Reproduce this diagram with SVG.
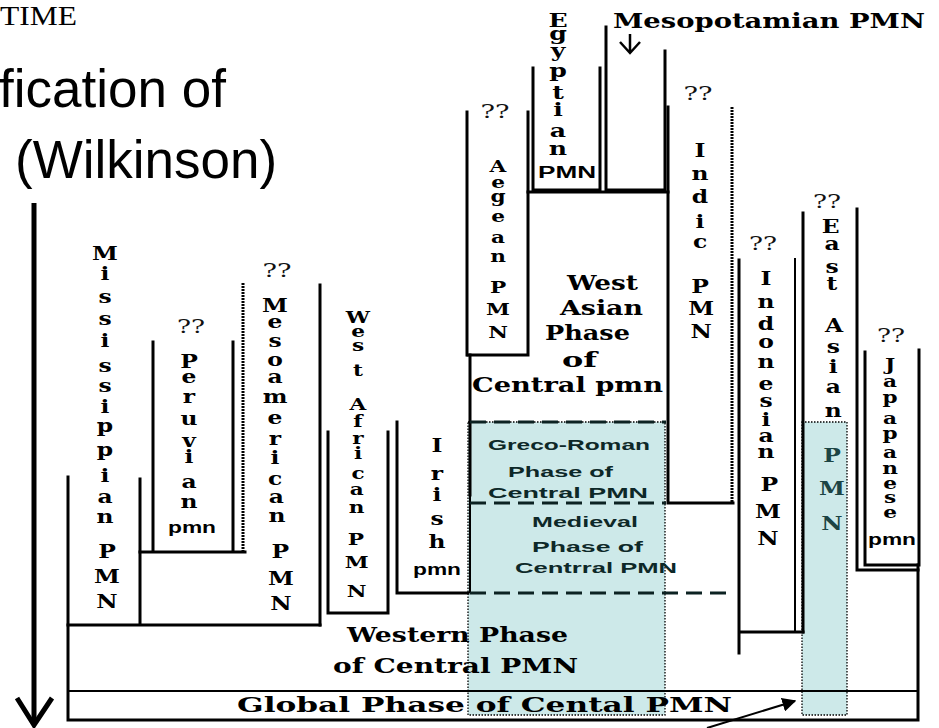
<svg xmlns="http://www.w3.org/2000/svg" width="939" height="728" viewBox="0 0 939 728">
  <style>
    .wall { stroke:#000; stroke-width:3; fill:none; stroke-linecap:square; }
    .wall2 { stroke:#000; stroke-width:2; fill:none; }
    .ticked { stroke:#000; stroke-width:3; fill:none; stroke-dasharray:2 1; }
    .dotted { stroke:#000; stroke-width:1.3; fill:none; stroke-dasharray:1.5 1.5; }
    .dash { stroke:#0c2222; stroke-width:3; fill:none; stroke-dasharray:16 8; }
    .teal { fill:#cde9e9; }
    .v { font-family:"DejaVu Serif", serif; font-weight:bold; font-size:18px; text-anchor:middle; fill:#000; }
    .vs { font-size:16px; }
    .vt { font-size:16px; }
    .q { font-family:"DejaVu Serif", serif; font-size:19px; text-anchor:middle; fill:#111; }
    .h { font-family:"DejaVu Serif", serif; font-weight:bold; font-size:20px; fill:#000; }
    .s { font-family:"Liberation Sans", Arial, sans-serif; font-weight:bold; font-size:14px; fill:#0d2828; }
    .pmn { font-family:"Liberation Sans", Arial, sans-serif; font-weight:bold; font-size:16px; fill:#000; text-anchor:middle; }
    .tealtext { fill:#1c4444; }
    .arrow { stroke:#000; fill:none; }
  </style>
  <defs>
    <marker id="head" viewBox="0 0 10 10" refX="9" refY="5" markerWidth="7" markerHeight="7" orient="auto">
      <path d="M0,0 L10,5 L0,10 z" fill="#000"/>
    </marker>
  </defs>

  <rect width="939" height="728" fill="#fff"/>

  <!-- shaded bands of the central and east asian traditions -->
  <g id="shading">
    <rect class="teal" x="468" y="422" width="197" height="293"/>
    <rect class="dotted" x="468" y="422" width="197" height="293"/>
    <rect class="teal" x="802" y="422" width="45" height="293"/>
    <rect class="dotted" x="802" y="422" width="45" height="293"/>
  </g>

  <!-- headings -->
  <g id="title">
    <text x="0" y="25" font-family="Liberation Serif, serif" font-size="27" textLength="77" lengthAdjust="spacingAndGlyphs">TIME</text>
    <text x="-1" y="107" font-family="Liberation Sans, Arial, sans-serif" font-size="53">fication of</text>
    <text x="15" y="178" font-family="Liberation Sans, Arial, sans-serif" font-size="53">(Wilkinson)</text>
  </g>

  <!-- global phase frame -->
  <g id="global-phase">
    <path class="wall" d="M68,477 V720 H918 V565"/>
    <path class="wall2" d="M68,691 H918"/>
    <text class="h" x="237" y="712" font-size="23" textLength="495" lengthAdjust="spacingAndGlyphs">Global Phase of Cental PMN</text>
  </g>

  <g id="western-phase">
    <text class="h" x="347" y="642" textLength="221" lengthAdjust="spacingAndGlyphs">Western Phase</text>
    <text class="h" x="333" y="673" textLength="245" lengthAdjust="spacingAndGlyphs">of Central PMN</text>
  </g>

  <g id="mississippian">
    <path class="wall" d="M140,479 V625 M68,625 H320"/>
    <g transform="translate(105,0) scale(1.3,1)">
      <text class="v"><tspan x="0" y="260">M</tspan><tspan x="0" y="280">i</tspan><tspan x="0" y="303">s</tspan><tspan x="0" y="325">s</tspan><tspan x="0" y="347">i</tspan><tspan x="0" y="372">s</tspan><tspan x="0" y="392">s</tspan><tspan x="0" y="413">i</tspan><tspan x="0" y="432">p</tspan><tspan x="0" y="456">p</tspan><tspan x="0" y="482">i</tspan><tspan x="0" y="503">a</tspan><tspan x="0" y="523">n</tspan><tspan x="1.5" y="558">P</tspan><tspan x="1.5" y="583">M</tspan><tspan x="1.5" y="608">N</tspan></text>
    </g>
  </g>

  <g id="peruvian">
    <path class="wall" d="M153,342 V552 M233,342 V552 M140,552 H245"/>
    <text class="q" x="191" y="333" textLength="28" lengthAdjust="spacingAndGlyphs">??</text>
    <g transform="translate(189,0) scale(1.3,1)">
      <text class="v"><tspan x="0" y="368">P</tspan><tspan x="0" y="383">e</tspan><tspan x="0" y="403">r</tspan><tspan x="0" y="425">u</tspan><tspan x="0" y="447">v</tspan><tspan x="0" y="463">i</tspan><tspan x="0" y="488">a</tspan><tspan x="0" y="508">n</tspan></text>
    </g>
    <text class="pmn" x="192" y="533" textLength="48" lengthAdjust="spacingAndGlyphs">pmn</text>
  </g>

  <g id="mesoamerican">
    <path class="ticked" d="M243,283 V552"/>
    <path class="wall" d="M320,285 V625"/>
    <text class="q" x="277" y="277" textLength="29" lengthAdjust="spacingAndGlyphs">??</text>
    <g transform="translate(275,0) scale(1.3,1)">
      <text class="v"><tspan x="0" y="312">M</tspan><tspan x="0" y="328">e</tspan><tspan x="0" y="347">s</tspan><tspan x="0" y="366">o</tspan><tspan x="0" y="383">a</tspan><tspan x="0" y="403">m</tspan><tspan x="0" y="424">e</tspan><tspan x="0" y="445">r</tspan><tspan x="0" y="464">i</tspan><tspan x="0" y="485">c</tspan><tspan x="1" y="503">a</tspan><tspan x="1.5" y="522">n</tspan><tspan x="4" y="558">P</tspan><tspan x="4.5" y="585">M</tspan><tspan x="4.5" y="610">N</tspan></text>
    </g>
  </g>

  <g id="west-african">
    <path class="wall" d="M328,432 V613 H388 V432"/>
    <g transform="translate(358,0) scale(1.35,1)">
      <text class="v vt"><tspan x="0" y="323">W</tspan><tspan x="0" y="337">e</tspan><tspan x="0" y="351">s</tspan><tspan x="0" y="376">t</tspan><tspan x="0" y="410">A</tspan><tspan x="0" y="427">f</tspan><tspan x="0" y="444">r</tspan><tspan x="0" y="459">i</tspan><tspan x="0" y="479">c</tspan><tspan x="-1" y="495">a</tspan><tspan x="-1" y="513">n</tspan><tspan x="-1.5" y="545">P</tspan><tspan x="-1" y="568">M</tspan><tspan x="-1" y="597">N</tspan></text>
    </g>
  </g>

  <g id="irish">
    <path class="wall" d="M397,422 V593 H468"/>
    <g transform="translate(437,0) scale(1.3,1)">
      <text class="v"><tspan x="0" y="452">I</tspan><tspan x="0" y="480">r</tspan><tspan x="0" y="501">i</tspan><tspan x="0" y="525">s</tspan><tspan x="0" y="548">h</tspan></text>
    </g>
    <text class="pmn" x="437" y="575" textLength="48" lengthAdjust="spacingAndGlyphs">pmn</text>
  </g>

  <!-- central tradition: outer walls -->
  <g id="central">
    <path class="wall" d="M467,112 V355"/>
    <path class="wall" stroke-width="4" d="M470,355 V495"/>
    <path class="wall2" d="M470,495 V593"/>
    <path class="wall" d="M668,107 V503 H733"/>
    <path class="wall" d="M528,192 H668"/>
  </g>

  <g id="aegean">
    <path class="wall" d="M528,112 V355 H468"/>
    <text class="q" x="495" y="118" textLength="29" lengthAdjust="spacingAndGlyphs">??</text>
    <g transform="translate(498,0) scale(1.35,1)">
      <text class="v vt"><tspan x="0" y="172">A</tspan><tspan x="0" y="188">e</tspan><tspan x="0" y="202">g</tspan><tspan x="0" y="222">e</tspan><tspan x="0" y="243">a</tspan><tspan x="0" y="262">n</tspan><tspan x="0" y="293">P</tspan><tspan x="0" y="315">M</tspan><tspan x="0" y="338">N</tspan></text>
    </g>
  </g>

  <g id="egyptian">
    <path class="wall" d="M533,68 V190 H600 V68"/>
    <g transform="translate(558,0) scale(1.4,1)">
      <text class="v" font-size="15"><tspan x="0" y="27">E</tspan><tspan x="0" y="40">g</tspan><tspan x="0" y="57">y</tspan><tspan x="0" y="77">p</tspan><tspan x="0" y="99">t</tspan><tspan x="0" y="116">i</tspan><tspan x="0" y="137">a</tspan><tspan x="0" y="155">n</tspan></text>
    </g>
    <text class="pmn" x="567" y="178" font-size="17" textLength="58" lengthAdjust="spacingAndGlyphs">PMN</text>
  </g>

  <g id="mesopotamian">
    <path class="wall" d="M606,27 V190 H665 V51"/>
    <text class="h" x="613" y="28" textLength="312" lengthAdjust="spacingAndGlyphs">Mesopotamian PMN</text>
  </g>

  <g id="west-asian">
    <text class="h" x="567" y="290" textLength="71" lengthAdjust="spacingAndGlyphs">West</text>
    <text class="h" x="560" y="315" textLength="83" lengthAdjust="spacingAndGlyphs">Asian</text>
    <text class="h" x="545" y="340" textLength="85" lengthAdjust="spacingAndGlyphs">Phase</text>
    <text class="h" x="562" y="367" textLength="35" lengthAdjust="spacingAndGlyphs">of</text>
    <text class="h" x="472" y="392" textLength="191" lengthAdjust="spacingAndGlyphs">Central pmn</text>
  </g>

  <g id="greco-roman">
    <path class="dash" d="M470,422 H666"/>
    <path class="dash" d="M470,503 H666"/>
    <text class="s" x="488" y="450" textLength="162" lengthAdjust="spacingAndGlyphs">Greco-Roman</text>
    <text class="s" x="508" y="477" textLength="105" lengthAdjust="spacingAndGlyphs">Phase  of</text>
    <text class="s" x="488" y="498" textLength="160" lengthAdjust="spacingAndGlyphs">Central  PMN</text>
  </g>

  <g id="medieval">
    <path class="dash" d="M470,593 H728"/>
    <text class="s" x="532" y="527" textLength="106" lengthAdjust="spacingAndGlyphs">Medieval</text>
    <text class="s" x="532" y="552" textLength="111" lengthAdjust="spacingAndGlyphs">Phase   of</text>
    <text class="s" x="515" y="573" textLength="162" lengthAdjust="spacingAndGlyphs">Centrral PMN</text>
  </g>

  <g id="indic">
    <path class="ticked" d="M732,107 V503"/>
    <text class="q" x="698" y="100" textLength="29" lengthAdjust="spacingAndGlyphs">??</text>
    <g transform="translate(700,0) scale(1.3,1)">
      <text class="v"><tspan x="0" y="157">I</tspan><tspan x="0" y="180">n</tspan><tspan x="0" y="203">d</tspan><tspan x="0" y="228">i</tspan><tspan x="0" y="248">c</tspan><tspan x="0" y="293">P</tspan><tspan x="1" y="315">M</tspan><tspan x="1" y="338">N</tspan></text>
    </g>
  </g>

  <g id="indonesian">
    <path class="wall" d="M739,260 V653 M739,632 H803"/>
    <path class="wall2" d="M795,258 V632"/>
    <text class="q" x="763" y="250" textLength="28" lengthAdjust="spacingAndGlyphs">??</text>
    <g transform="translate(766,0) scale(1.3,1)">
      <text class="v"><tspan x="0" y="285">I</tspan><tspan x="0" y="308">n</tspan><tspan x="0" y="330">d</tspan><tspan x="0" y="348">o</tspan><tspan x="0" y="368">n</tspan><tspan x="0" y="390">e</tspan><tspan x="0" y="407">s</tspan><tspan x="0" y="426">i</tspan><tspan x="0" y="442">a</tspan><tspan x="0" y="458">n</tspan><tspan x="2.5" y="491">P</tspan><tspan x="1.5" y="518">M</tspan><tspan x="1.5" y="545">N</tspan></text>
    </g>
  </g>

  <g id="east-asian">
    <path class="wall" d="M803,213 V632 M857,209 V570 H918"/>
    <text class="q" x="827" y="208" textLength="28" lengthAdjust="spacingAndGlyphs">??</text>
    <g transform="translate(832,0) scale(1.3,1)">
      <text class="v"><tspan x="-1" y="233">E</tspan><tspan x="0" y="250">a</tspan><tspan x="0" y="273">s</tspan><tspan x="0" y="290">t</tspan><tspan x="1.5" y="332">A</tspan><tspan x="1" y="353">s</tspan><tspan x="1" y="373">i</tspan><tspan x="1" y="393">a</tspan><tspan x="1" y="417">n</tspan></text>
      <text class="v tealtext"><tspan x="0" y="462">P</tspan><tspan x="0" y="495">M</tspan><tspan x="0" y="530">N</tspan></text>
    </g>
  </g>

  <g id="japanese">
    <path class="wall" d="M865,352 V565 H919 V350"/>
    <text class="q" x="891" y="342" textLength="28" lengthAdjust="spacingAndGlyphs">??</text>
    <g transform="translate(890,0) scale(1.35,1)">
      <text class="v vs"><tspan x="0" y="370">J</tspan><tspan x="0" y="387">a</tspan><tspan x="0" y="403">p</tspan><tspan x="0" y="424">a</tspan><tspan x="0" y="439">p</tspan><tspan x="0" y="458">a</tspan><tspan x="0" y="474">n</tspan><tspan x="0" y="489">e</tspan><tspan x="0" y="503">s</tspan><tspan x="0" y="518">e</tspan></text>
    </g>
    <text class="pmn" x="892" y="545" textLength="48" lengthAdjust="spacingAndGlyphs">pmn</text>
  </g>

  <!-- pointers and the time axis -->
  <g id="connectors">
    <path class="arrow" stroke-width="5" d="M34,203 V725"/>
    <path class="arrow" stroke-width="5" stroke-linejoin="miter" d="M17,698 L34,725 L52,698"/>
    <path class="arrow" stroke-width="2.5" d="M630,34 V52 M620,42 L630,53 L640,42"/>
    <path class="arrow" stroke-width="2" marker-end="url(#head)" d="M707,728 L795,701"/>
  </g>
</svg>
